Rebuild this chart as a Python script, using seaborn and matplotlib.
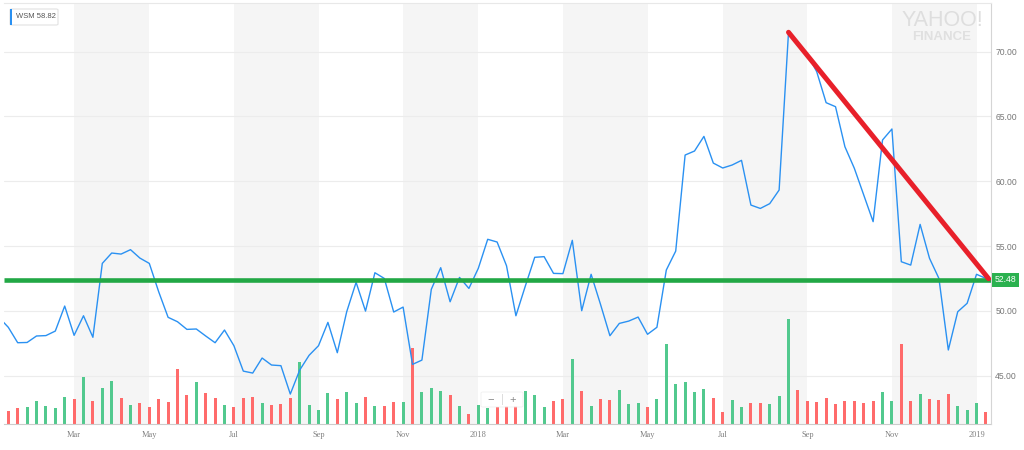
import numpy as np
import pandas as pd
import matplotlib
matplotlib.use("Agg")
import matplotlib.pyplot as plt
import matplotlib.transforms as mtransforms
from matplotlib.patches import Rectangle, FancyBboxPatch
import seaborn as sns

# ---------------- data (weekly, WSM) ----------------
# first close is the week before the first volume bar (clipped at the left edge)
first_week = "2017-01-09"
close_prices = [49.5, 48.73, 47.54, 47.56, 48.06, 48.09, 48.44, 50.37, 48.11, 49.62, 47.96,
                53.66, 54.46, 54.38, 54.72, 54.07, 53.66, 51.47, 49.5, 49.16, 48.57, 48.6,
                48.06, 47.54, 48.52, 47.31, 45.35, 45.2, 46.36, 45.82, 45.77, 43.58, 45.43,
                46.57, 47.31, 49.11, 46.77, 49.93, 52.2, 49.98, 52.94, 52.5, 49.91, 50.29,
                45.87, 46.2, 51.66, 53.33, 50.7, 52.58, 51.73, 53.28, 55.52, 55.31, 53.48,
                49.62, 51.91, 54.13, 54.18, 52.89, 52.87, 55.44, 50.01, 52.82, 50.5, 48.08,
                49.03, 49.21, 49.52, 48.19, 48.73, 53.15, 54.61, 62.02, 62.33, 63.46, 61.4,
                61.02, 61.25, 61.61, 58.16, 57.9, 58.27, 59.32, 71.49, 70.45, 69.8, 68.45,
                66.06, 65.75, 62.66, 61.0, 58.94, 56.88, 63.18, 64.03, 53.79, 53.53, 56.67,
                54.05, 52.5, 46.98, 49.93, 50.58, 52.82, 52.5]
# weekly volume (millions), one per week from 2017-01-16
volumes = [1.27, 1.6, 1.7, 2.27, 1.77, 1.6, 2.7, 2.53, 4.7, 2.27, 3.6, 4.27, 2.57, 1.9,
           2.13, 1.67, 2.53, 2.2, 5.53, 2.93, 4.17, 3.1, 2.6, 1.93, 1.67, 2.63, 2.7, 2.07,
           1.93, 2.03, 2.63, 6.23, 1.9, 1.37, 3.13, 2.47, 3.23, 2.1, 2.7, 1.83, 1.83, 2.2,
           2.2, 7.63, 3.2, 3.6, 3.33, 2.93, 1.77, 0.97, 1.9, 1.6, 1.67, 1.77, 1.77, 3.33,
           2.87, 1.73, 2.27, 2.5, 6.53, 3.33, 1.83, 2.47, 2.37, 3.37, 1.97, 2.07, 1.67,
           2.47, 8.0, 4.0, 4.23, 3.17, 3.47, 2.57, 1.2, 2.43, 1.7, 2.1, 2.07, 2.0, 2.8,
           10.5, 3.43, 2.33, 2.2, 2.6, 2.0, 2.27, 2.27, 2.07, 2.27, 3.23, 2.33, 8.0, 2.27,
           3.0, 2.5, 2.43, 3.0, 1.77, 1.43, 2.07, 1.17]

tick_labels = ["Mar", "May", "Jul", "Sep", "Nov", "2018", "Mar", "May", "Jul", "Sep", "Nov", "2019"]
tick_weeks = ["2017-03-06", "2017-05-01", "2017-07-03", "2017-09-04", "2017-11-06", "2018-01-01",
              "2018-03-05", "2018-05-07", "2018-07-02", "2018-09-03", "2018-11-05", "2019-01-07"]
ytick_vals = [45, 50, 55, 60, 65, 70]

legend_text = "WSM 58.82"
level_value = 52.4
level_label = "52.48"
trend_weeks = ["2018-08-20", "2019-01-16"]
trend_vals = [71.49, 52.48]

# ---------------- derived tables ----------------
weeks = pd.date_range(first_week, periods=len(close_prices), freq="7D")
pos = np.arange(len(close_prices)) - 1          # week index, volume bars start at 0
week_pos = {d.strftime("%Y-%m-%d"): p for d, p in zip(weeks, pos)}
price_df = pd.DataFrame({"pos": pos, "close": close_prices})
vol_df = pd.DataFrame({"pos": pos[1:], "vol": volumes,
                       "dir": np.where(np.diff(close_prices) >= 0, "up", "down")})
tick_pos = [week_pos[w] for w in tick_weeks]

def to_pos(s):
    d = pd.Timestamp(s)
    return (d - weeks[0]).days / 7.0 - 1

trend_pos = [to_pos(w) for w in trend_weeks]

# ---------------- style ----------------
sns.set_style("white")
plt.rcParams["font.family"] = ["Liberation Sans", "DejaVu Sans"]

BLUE = "#2a91f2"
GREEN_BAR = "#52c98e"
RED_BAR = "#ff6b6b"
GREEN_LINE = "#22a845"
RED_LINE = "#e8202a"
BAND = "#f5f5f5"

W, H = 1024, 450
fig = plt.figure(figsize=(W / 100, H / 100), dpi=100)
left_px, right_px, top_px, bottom_px = 4, 991, 3, 424
ax_vol = fig.add_axes([left_px / W, 1 - bottom_px / H, (right_px - left_px) / W,
                       (bottom_px - top_px) / H])
ax_price = ax_vol.twinx()
ax_price.set_ylim(41.27, 73.75)

# shaded bi-monthly bands
for a, b in zip(tick_pos[0::2], tick_pos[1::2]):
    ax_vol.axvspan(a, b, color=BAND, zorder=0, lw=0)

# horizontal grid lines at price ticks, drawn behind the volume bars
grid_trans = mtransforms.blended_transform_factory(ax_vol.transAxes, ax_price.transData)
for v in ytick_vals:
    ax_vol.plot([0, 1], [v, v], transform=grid_trans, color="#ececec", lw=0.8, zorder=1)

# volume bars
sns.barplot(data=vol_df, x="pos", y="vol", hue="dir", hue_order=["up", "down"],
            palette={"up": GREEN_BAR, "down": RED_BAR}, native_scale=True, dodge=False,
            width=0.32, saturation=1, linewidth=0, legend=False, ax=ax_vol, zorder=2)
ax_vol.set_ylim(0, 42.1)
ax_vol.set_yticks([])
ax_vol.set_ylabel("")
ax_vol.set_xlabel("")

# price line
sns.lineplot(data=price_df, x="pos", y="close", ax=ax_price, color=BLUE, linewidth=1.0,
             zorder=3)
# horizontal level and trend line
ax_price.axhline(level_value, color=GREEN_LINE, lw=3.3, zorder=4, solid_capstyle="butt")
sns.lineplot(x=trend_pos, y=trend_vals, ax=ax_price, color=RED_LINE, linewidth=3.6,
             zorder=5, solid_capstyle="round")

ax_price.set_ylim(41.27, 73.75)
ax_price.set_ylabel("")
ax_price.set_xlabel("")
ax_price.set_yticks(ytick_vals, [f"{v:.2f}" for v in ytick_vals])
ax_price.grid(False)
ax_price.tick_params(axis="y", length=0, pad=3, labelsize=6.2, labelcolor="#777777")

ax_vol.set_xticks(tick_pos, tick_labels)
ax_vol.tick_params(axis="x", length=2, width=0.6, color="#cccccc", pad=3,
                   labelsize=6, labelcolor="#808080")
for lab in ax_vol.get_xticklabels():
    lab.set_fontfamily("Liberation Serif")
ax_price.set_xlim(-0.457, 104.54)

for sp in ["left", "right", "top"]:
    ax_vol.spines[sp].set_visible(False)
ax_vol.spines["bottom"].set_color("#cccccc")
ax_vol.spines["bottom"].set_linewidth(0.8)
ax_price.spines["left"].set_visible(False)
ax_price.spines["bottom"].set_visible(False)
ax_price.spines["right"].set_color("#d5d5d5")
ax_price.spines["right"].set_linewidth(0.8)
ax_price.spines["top"].set_color("#e8e8e8")
ax_price.spines["top"].set_linewidth(0.8)

# level price tag
trans = mtransforms.blended_transform_factory(ax_price.transAxes, ax_price.transData)
ax_price.text(1.004, level_value, level_label, transform=trans, ha="left", va="center",
              fontsize=6.2, color="white", clip_on=False, zorder=6,
              bbox=dict(boxstyle="square,pad=0.3", facecolor="#2bb14f", edgecolor="none"))

# legend chip top-left
fig.add_artist(FancyBboxPatch((10 / W, 1 - 25 / H), 48 / W, 16 / H,
                              boxstyle="round,pad=0,rounding_size=0.002",
                              transform=fig.transFigure, facecolor="white",
                              edgecolor="#e2e2e2", lw=0.8, zorder=10))
fig.add_artist(Rectangle((10 / W, 1 - 25 / H), 2 / W, 16 / H, transform=fig.transFigure,
                         facecolor="#2a91f2", edgecolor="none", zorder=11))
fig.text(16 / W, 1 - 17 / H, legend_text, fontsize=5.5, color="#555555", va="center",
         ha="left", zorder=12)

# watermark
fig.text(942 / W, 1 - 20 / H, "YAHOO!", fontsize=15.5, color="#dedede", ha="center",
         va="center", zorder=1)
fig.text(942 / W, 1 - 37 / H, "FINANCE", fontsize=9.5, color="#e0e0e0", ha="center",
         va="center", fontweight="bold", zorder=1)

# zoom control overlay
fig.add_artist(FancyBboxPatch((481 / W, 1 - 407 / H), 42 / W, 15 / H,
                              boxstyle="round,pad=0,rounding_size=0.002",
                              transform=fig.transFigure, facecolor="white", alpha=0.85,
                              edgecolor="#eeeeee", lw=0.6, zorder=10))
fig.text(491 / W, 1 - 399.5 / H, "\u2212", fontsize=8, color="#888888", ha="center",
         va="center", zorder=11)
fig.text(513 / W, 1 - 399.5 / H, "+", fontsize=8, color="#888888", ha="center",
         va="center", zorder=11)
fig.add_artist(Rectangle((502 / W, 1 - 405 / H), 0.8 / W, 11 / H, transform=fig.transFigure,
                         facecolor="#dddddd", edgecolor="none", zorder=11))

fig.savefig("out.png", dpi=100)
